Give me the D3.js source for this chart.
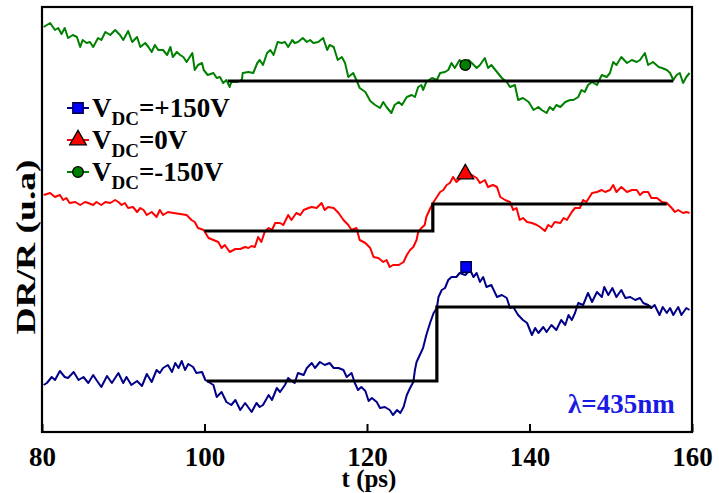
<!DOCTYPE html>
<html><head><meta charset="utf-8">
<script src="https://cdn.jsdelivr.net/npm/d3@7"></script>
<style>body{margin:0;background:#fff}svg{display:block}svg text{font-family:"Liberation Serif","Times New Roman",Times,serif !important;font-weight:bold}</style>
</head><body><svg id="c" width="719" height="493"></svg>
<script>
const xTicks = [80, 100, 120, 140, 160];
const xLabel = "t (ps)";
const yLabel = "DR/R (u.a)";
const note = "λ=435nm";
const seriesNames = ["+150V", "0V", "-150V"];

const blueData = [[80.2,47],[80.6,49],[81.2,55],[81.6,52],[82.2,61],[82.8,55],[83.2,54],[83.9,60],[84.5,52],[85.1,55],[85.7,49],[86.3,57],[86.7,52],[87.3,45],[88.0,56],[88.6,49],[89.4,59],[90.0,49],[90.4,55],[91.0,47],[91.7,51],[92.3,46],[92.9,58],[93.5,50],[94.1,62],[94.5,59],[94.9,64],[95.5,67],[96.0,60],[96.4,69],[96.8,64],[97.2,71],[97.6,62],[98.0,68],[98.6,65],[99.0,59],[99.7,60],[100.1,52],[100.7,49],[101.1,47],[101.5,35],[102.1,40],[102.7,30],[103.3,27],[103.8,32],[104.4,22],[105.0,29],[105.8,20],[106.4,29],[106.8,25],[107.2,27],[107.9,37],[108.3,32],[108.9,44],[109.3,40],[109.9,47],[110.3,54],[110.7,51],[111.1,49],[111.5,59],[112.2,57],[112.6,64],[113.2,69],[113.6,64],[114.2,70],[114.8,67],[115.4,69],[115.9,64],[116.5,64],[117.1,62],[117.5,55],[118.1,59],[118.5,49],[118.9,42],[119.3,45],[119.8,41],[120.2,31],[120.6,34],[121.2,30],[121.6,24],[122.2,25],[122.8,22],[123.2,17],[123.7,22],[124.1,19],[124.5,25],[124.9,37],[125.3,44],[125.7,50],[125.9,62],[126.1,70],[126.5,77],[126.9,84],[127.3,97],[127.8,110],[128.2,119],[128.6,124],[128.8,135],[129.2,142],[129.6,144],[130.0,152],[130.4,155],[131.0,155],[131.4,159],[132.1,157],[132.7,162],[133.1,155],[133.5,159],[133.9,150],[134.3,155],[134.7,145],[135.3,147],[136.0,135],[136.6,137],[137.2,134],[137.6,124],[138.0,125],[138.6,117],[139.2,112],[139.7,109],[140.3,97],[140.7,104],[141.1,99],[141.7,105],[142.1,100],[142.7,107],[143.3,102],[143.9,112],[144.4,107],[144.8,117],[145.2,112],[145.6,119],[146.0,129],[146.6,127],[147.2,139],[147.7,130],[148.3,140],[148.9,135],[149.2,145],[149.7,137],[150.2,144],[150.7,135],[151.3,142],[151.8,134],[152.4,135],[153.0,132],[153.6,134],[154.0,129],[154.6,127],[155.0,124],[155.4,127],[156.0,117],[156.4,125],[156.9,119],[157.3,124],[157.7,117],[158.3,125],[158.7,117],[159.3,124],[159.7,122]];

const redData = [[80.2,237],[81.0,239],[81.6,235],[82.2,237],[82.6,232],[83.0,234],[83.4,229],[84.1,230],[84.7,227],[85.3,230],[85.7,229],[86.3,227],[86.7,230],[87.3,227],[87.8,230],[88.4,229],[89.0,232],[89.4,230],[89.8,227],[90.2,229],[90.6,224],[91.2,225],[91.7,220],[92.1,224],[92.5,222],[92.9,217],[93.5,220],[94.1,215],[94.5,222],[94.9,217],[95.5,220],[96.2,219],[97.0,218],[97.8,217],[98.4,212],[98.8,210],[99.2,204],[99.9,202],[100.5,194],[101.1,192],[101.7,190],[102.1,184],[102.5,187],[103.1,180],[103.8,183],[104.4,183],[105.0,185],[105.4,184],[105.8,186],[106.2,185],[106.6,195],[107.0,190],[107.4,200],[107.9,204],[108.3,202],[108.7,209],[109.3,209],[109.7,207],[110.3,217],[110.7,212],[111.3,219],[111.8,217],[112.2,222],[112.8,224],[113.2,225],[113.8,224],[114.4,229],[114.8,222],[115.2,225],[115.9,224],[116.5,219],[117.1,212],[117.7,207],[118.1,202],[118.7,204],[119.1,192],[119.8,189],[120.4,184],[120.8,175],[121.4,174],[122.0,170],[122.4,172],[122.8,165],[123.2,167],[123.9,167],[124.5,170],[124.9,177],[125.3,182],[125.7,185],[126.1,192],[126.3,200],[126.7,204],[127.1,207],[127.3,215],[127.8,224],[128.2,230],[128.6,235],[129.0,240],[129.4,242],[129.8,247],[130.2,249],[130.6,255],[131.0,250],[131.7,255],[132.3,258],[132.9,257],[133.5,254],[133.9,249],[134.5,252],[134.9,245],[135.5,247],[136.0,245],[136.4,235],[137.0,232],[137.6,230],[138.0,222],[138.4,224],[138.8,212],[139.2,214],[139.7,210],[140.3,209],[140.9,207],[141.3,205],[141.9,201],[142.3,207],[142.7,205],[143.1,210],[143.8,209],[144.2,214],[144.6,212],[145.2,220],[145.6,224],[146.2,224],[146.6,232],[147.0,230],[147.7,239],[148.3,240],[148.9,242],[149.3,240],[149.9,242],[150.3,247],[150.7,240],[151.3,245],[152.0,240],[152.6,242],[153.2,242],[153.6,237],[154.0,240],[154.6,240],[155.0,234],[155.7,234],[156.3,230],[156.9,229],[157.5,224],[157.9,220],[158.3,222],[158.9,219],[159.3,220],[159.7,219]];

const greenData = [[80.2,405],[81.0,409],[81.6,402],[82.0,404],[82.4,398],[82.8,404],[83.2,394],[83.8,397],[84.3,395],[84.7,385],[85.0,392],[85.5,389],[85.9,390],[86.3,385],[86.9,394],[87.3,392],[87.8,400],[88.4,397],[89.0,402],[89.6,397],[90.0,392],[90.6,401],[91.1,390],[91.7,395],[92.1,385],[92.7,389],[93.1,385],[93.5,380],[93.9,387],[94.3,382],[94.9,382],[95.4,377],[95.8,385],[96.1,375],[96.6,380],[97.0,377],[97.4,375],[97.8,370],[98.5,379],[98.8,362],[99.2,367],[99.7,369],[99.9,362],[100.4,357],[101.1,359],[101.5,354],[101.9,355],[102.3,349],[102.7,352],[103.1,345],[103.3,350],[104.0,350],[104.6,352],[104.7,359],[105.4,360],[106.0,359],[106.5,369],[106.8,372],[107.2,367],[107.7,379],[108.1,382],[108.5,377],[109.0,390],[109.5,389],[109.9,390],[110.3,385],[110.8,392],[111.1,389],[111.5,390],[112.1,394],[112.6,390],[113.0,392],[113.4,389],[114.0,390],[114.6,394],[115.1,382],[115.4,387],[115.9,385],[116.4,372],[116.9,375],[117.3,369],[117.7,355],[118.3,359],[118.8,350],[119.1,344],[119.8,340],[120.4,331],[121.0,327],[121.6,324],[122.0,330],[122.4,325],[123.0,319],[123.4,327],[123.9,330],[124.3,327],[124.9,335],[125.5,337],[125.9,335],[126.3,345],[126.7,347],[126.9,342],[127.3,350],[128.0,354],[128.6,352],[129.0,359],[129.6,360],[130.0,362],[130.4,369],[130.8,364],[131.4,372],[131.9,369],[132.5,372],[132.9,369],[133.5,364],[133.9,367],[134.5,374],[134.9,364],[135.3,367],[136.0,360],[136.6,354],[137.2,350],[137.6,345],[138.2,347],[138.6,332],[139.2,334],[139.9,330],[140.5,322],[141.1,325],[141.5,322],[142.1,319],[142.5,325],[142.9,322],[143.3,327],[143.8,325],[144.4,330],[145.0,332],[145.4,332],[146.0,335],[146.4,342],[146.8,340],[147.2,347],[147.7,350],[148.3,347],[148.9,357],[149.5,355],[149.9,359],[150.3,370],[150.7,367],[151.3,375],[152.0,369],[152.6,372],[153.2,370],[153.6,372],[154.2,379],[154.6,367],[155.2,370],[155.9,365],[156.3,364],[156.9,362],[157.3,359],[157.7,352],[158.1,357],[158.5,359],[158.9,349],[159.3,355],[159.7,359]];

const blueStep = [[100.3,51],[128.6,51],[128.6,125],[155.0,125]];
const redStep = [[100.0,201],[128.1,201],[128.1,228],[156.9,228]];
const greenStep = [[102.9,351],[157.7,351]];

const blueMarker = [132.2,165];
const redMarker = [132.1,258];
const greenMarker = [132.1,367];

const W = 719, H = 493;
const m = {left:42, right:27, top:7, bottom:61};
const x = d3.scaleLinear().domain([80,160]).range([m.left, W - m.right]);
const y = d3.scaleLinear().domain([0,425]).range([H - m.bottom, m.top]);
const svg = d3.select("#c");
const FONT = "Liberation Serif";

const line = d3.line().x(d => x(d[0])).y(d => y(d[1]));
const series = [
  {data: blueData, step: blueStep, color: "#000088", fill: "#0000ff", marker: blueMarker, shape: d3.symbolSquare},
  {data: redData, step: redStep, color: "#ff0000", fill: "#ff0000", marker: redMarker, shape: d3.symbolTriangle},
  {data: greenData, step: greenStep, color: "#008000", fill: "#008000", marker: greenMarker, shape: d3.symbolCircle}
];

series.forEach(s => {
  svg.append("path").attr("d", line(s.data)).attr("fill","none").attr("stroke", s.color).attr("stroke-width", 2).attr("stroke-linejoin","round");
});
series.forEach(s => {
  svg.append("path").attr("d", line(s.step)).attr("fill","none").attr("stroke", "#000").attr("stroke-width", 3.2);
});
const sizes = {0: 110, 1: 120, 2: 90};
series.forEach((s,i) => {
  svg.append("path").attr("d", d3.symbol().type(s.shape).size(sizes[i])())
    .attr("transform", `translate(${x(s.marker[0])},${y(s.marker[1])})`)
    .attr("fill", s.fill).attr("stroke", i===0 ? "#000044" : "#000").attr("stroke-width", 1.3);
});

svg.append("rect").attr("x", m.left).attr("y", m.top).attr("width", W - m.left - m.right).attr("height", H - m.top - m.bottom)
  .attr("fill","none").attr("stroke","#000").attr("stroke-width",2.2);

const xAxis = d3.axisBottom(x).tickValues(xTicks).tickSizeInner(-8).tickSizeOuter(0).tickPadding(16).tickFormat(d3.format("d"));
const gx = svg.append("g").attr("transform", `translate(0,${H - m.bottom})`).call(xAxis).attr("font-family", FONT);
gx.select(".domain").remove();
gx.selectAll(".tick line").attr("stroke","#000").attr("stroke-width",2);
gx.selectAll(".tick text").attr("font-size", 27).attr("fill","#000").attr("font-family", FONT).attr("font-weight","bold").attr("dy", null).attr("y", 34);

svg.append("text").attr("x", 369).attr("y", 487).attr("text-anchor","middle").attr("font-family", FONT).attr("font-size", 25).text(xLabel);
svg.append("text").attr("transform","translate(35,247) rotate(-90)").attr("text-anchor","middle").attr("font-family", FONT).attr("font-size", 28)
  .attr("textLength", 175).attr("lengthAdjust","spacingAndGlyphs").text(yLabel);

svg.append("text").attr("x", 568).attr("y", 413).attr("font-family", FONT).attr("font-size", 27).attr("fill","#1a1ae6").text(note);

series.forEach((s,i) => {
  const cy = 108 + i*32;
  svg.append("line").attr("x1",67).attr("x2",89).attr("y1",cy).attr("y2",cy).attr("stroke",s.color).attr("stroke-width",2);
  svg.append("path").attr("d", d3.symbol().type(s.shape).size(sizes[i])())
    .attr("transform", `translate(78,${cy})`).attr("fill", s.fill).attr("stroke", i===0 ? "#000044" : "#000").attr("stroke-width",1.3);
  const t = svg.append("text").attr("x",92).attr("y",cy+9).attr("font-family", FONT).attr("font-size",27);
  t.append("tspan").text("V");
  t.append("tspan").attr("font-size",19).attr("dy",8).text("DC");
  t.append("tspan").attr("dy",-8).text("=" + seriesNames[i]);
});
</script></body></html>
